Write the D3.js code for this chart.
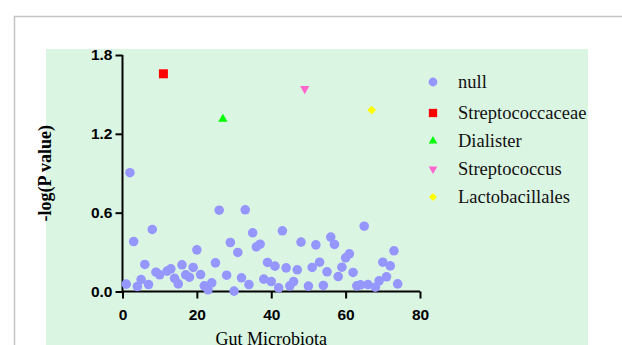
<!DOCTYPE html>
<html>
<head>
<meta charset="utf-8">
<script src="https://cdn.jsdelivr.net/npm/d3@7"></script>
<style>
  body { margin: 0; background: #fff; }
  svg { display: block; }
</style>
</head>
<body>
<script>
var width = 622;
var height = 345;

// null (non-significant) taxa: index and -log(P)
var nullX = [1,2,3,4,5,6,7,8,9,10,
             12,13,14,15,16,17,18,19,20,21,22,23,24,25,26,
             28,29,30,31,32,33,34,35,36,37,38,39,40,41,42,43,44,45,46,47,48,
             50,51,52,53,54,55,56,57,58,59,60,61,62,63,64,65,66,
             68,69,70,71,72,73,74];
var nullY = [0.056,0.904,0.38,0.038,0.091,0.206,0.053,0.472,0.147,0.127,
             0.155,0.173,0.10,0.058,0.203,0.127,0.109,0.183,0.317,0.129,0.043,0.013,0.066,0.218,0.619,
             0.124,0.373,0.003,0.297,0.104,0.622,0.053,0.447,0.34,0.36,0.094,0.221,0.076,0.193,0.028,0.462,0.18,0.043,0.076,0.165,0.376,
             0.041,0.183,0.355,0.223,0.046,0.15,0.414,0.358,0.114,0.185,0.256,0.287,0.145,0.043,0.051,0.497,0.053,
             0.033,0.081,0.223,0.112,0.195,0.31,0.058];

// significant taxa
var hitNames = ['Streptococcaceae', 'Dialister', 'Streptococcus', 'Lactobacillales'];
var hitX = [11, 27, 49, 67];
var hitY = [1.657, 1.312, 1.543, 1.381];

var legendNames = ['null'].concat(hitNames);
var colors = ['#9696ff', '#ff0000', '#00ff00', '#ff66cc', '#ffff00'];

var xTicks = [0, 20, 40, 60, 80];
var yTicks = [0.0, 0.6, 1.2, 1.8];

var svg = d3.select('body')
    .append('svg')
    .attr('width', width)
    .attr('height', height);

// outer frame and panel
svg.append('path')
    .attr('d', 'M14.5,' + height + 'V16.5H' + width)
    .attr('fill', 'none')
    .attr('stroke', '#c4c4c4')
    .attr('stroke-width', 1.5);

svg.append('rect')
    .attr('x', 46).attr('y', 49)
    .attr('width', 542).attr('height', height - 49)
    .attr('fill', '#dbf5e3');

var x = d3.scaleLinear().domain([0, 80]).range([122.5, 420]);
var y = d3.scaleLinear().domain([0, 1.8]).range([291.5, 55]);

// axes
var xAxis = svg.append('g')
    .attr('transform', 'translate(0,' + y(0) + ')')
    .call(d3.axisBottom(x).tickValues(xTicks).tickSize(7).tickPadding(10).tickFormat(d3.format('d')));
var yAxis = svg.append('g')
    .attr('transform', 'translate(' + x(0) + ',0)')
    .call(d3.axisLeft(y).tickValues(yTicks).tickSize(7).tickPadding(3).tickFormat(d3.format('.1f')));

[xAxis, yAxis].forEach(function(g) {
    g.select('.domain').attr('stroke', '#000').attr('stroke-width', 2);
    g.selectAll('.tick line').attr('stroke', '#000').attr('stroke-width', 2);
    g.selectAll('.tick text')
        .attr('fill', '#000')
        .style('font-family', '"Liberation Sans", Arial, sans-serif')
        .style('font-weight', 'bold')
        .style('font-size', '15.5px');
});
// remove outer tick ends of the domain path
xAxis.select('.domain').attr('d', 'M' + x(0) + ',0H' + x(80));
yAxis.select('.domain').attr('d', 'M0,' + y(0) + 'V' + y(1.8));

// titles
svg.append('text')
    .attr('x', (x(0) + x(80)) / 2)
    .attr('y', 345)
    .attr('text-anchor', 'middle')
    .style('font-family', '"Liberation Serif", "Times New Roman", serif')
    .style('font-size', '18px')
    .text('Gut Microbiota');

svg.append('text')
    .attr('transform', 'translate(51,' + (y(0) + y(1.8)) / 2 + ') rotate(-90)')
    .attr('text-anchor', 'middle')
    .style('font-family', '"Liberation Serif", "Times New Roman", serif')
    .style('font-weight', 'bold')
    .style('font-size', '18px')
    .text('-log(P value)');

// marker shapes
function shape(i, big) {
    var s = big ? 1 : 0.85;
    if (i === 0) return { t: d3.symbolCircle, size: 72 * s, rot: 0 };
    if (i === 1) return { t: d3.symbolSquare, size: 81 * s, rot: 0 };
    if (i === 2) return { t: d3.symbolTriangle, size: 38 * s, rot: 0 };
    if (i === 3) return { t: d3.symbolTriangle, size: 38 * s, rot: 180 };
    return { t: d3.symbolSquare, size: 38 * s, rot: 45 };
}

var nullData = nullX.map(function(d, i) { return [d, nullY[i]]; });
svg.append('g').selectAll('path')
    .data(nullData)
    .enter()
    .append('path')
    .attr('d', d3.symbol().type(d3.symbolCircle).size(72))
    .attr('transform', function(d) { return 'translate(' + x(d[0]) + ',' + y(d[1]) + ')'; })
    .attr('fill', colors[0]);

var hitData = hitX.map(function(d, i) { return [d, hitY[i], i + 1]; });
svg.append('g').selectAll('path')
    .data(hitData)
    .enter()
    .append('path')
    .attr('d', function(d) { var s = shape(d[2], true); return d3.symbol().type(s.t).size(s.size)(); })
    .attr('transform', function(d) {
        return 'translate(' + x(d[0]) + ',' + y(d[1]) + ') rotate(' + shape(d[2], true).rot + ')';
    })
    .attr('fill', function(d) { return colors[d[2]]; });

// legend
var legend = svg.append('g').selectAll('g')
    .data(legendNames)
    .enter()
    .append('g')
    .attr('transform', function(d, i) { return 'translate(433,' + (i === 0 ? 82 : 113 + (i - 1) * 28) + ')'; });

legend.append('path')
    .attr('d', function(d, i) { var s = shape(i, false); return d3.symbol().type(s.t).size(s.size)(); })
    .attr('transform', function(d, i) { return 'rotate(' + shape(i, false).rot + ')'; })
    .attr('fill', function(d, i) { return colors[i]; });

legend.append('text')
    .attr('x', 25)
    .attr('y', 6)
    .style('font-family', '"Liberation Serif", "Times New Roman", serif')
    .style('font-size', '18.5px')
    .attr('fill', '#111')
    .text(function(d) { return d; });
</script>
</body>
</html>
